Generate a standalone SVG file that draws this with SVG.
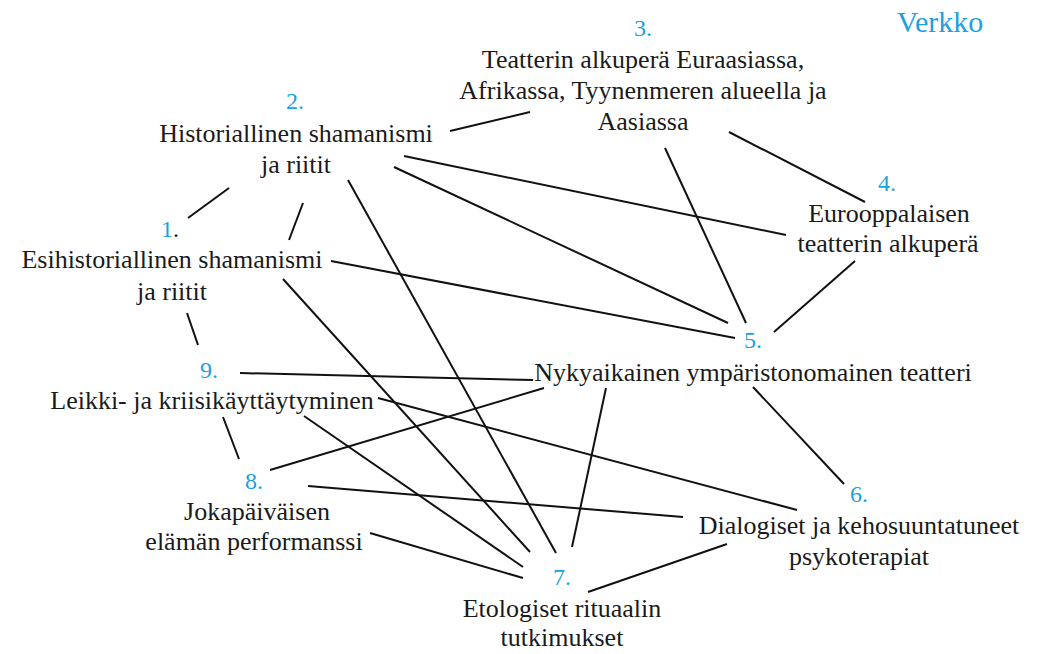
<svg xmlns="http://www.w3.org/2000/svg" width="1047" height="654" viewBox="0 0 1047 654">
<style>
.t{font-family:"Liberation Serif","Times New Roman",serif;font-size:26px;fill:#1a1a1a;text-anchor:middle}
.n{font-family:"Liberation Serif","Times New Roman",serif;font-size:24px;fill:#1ba1e2;text-anchor:middle}
.title{font-family:"Liberation Serif","Times New Roman",serif;font-size:30px;fill:#1ba1e2;text-anchor:middle}
.e line{stroke:#111;stroke-width:2;stroke-linecap:butt}
</style>
<rect width="1047" height="654" fill="#fff"/>
<text class="title" x="940" y="32">Verkko</text>
<g class="e" id="connectors">
<line x1="450" y1="131" x2="530" y2="112"/>
<line x1="404" y1="156" x2="786" y2="235"/>
<line x1="394" y1="167" x2="728" y2="323"/>
<line x1="348" y1="180" x2="556" y2="553"/>
<line x1="229" y1="188" x2="188" y2="218"/>
<line x1="303" y1="203" x2="289" y2="240"/>
<line x1="331" y1="261" x2="735" y2="338"/>
<line x1="283" y1="279" x2="530" y2="552"/>
<line x1="187" y1="313" x2="198" y2="345"/>
<line x1="665" y1="148" x2="746" y2="323"/>
<line x1="729" y1="132" x2="865" y2="202"/>
<line x1="855" y1="261" x2="774" y2="332"/>
<line x1="240" y1="373" x2="533" y2="380"/>
<line x1="378" y1="398" x2="797" y2="510"/>
<line x1="304" y1="416" x2="523" y2="567"/>
<line x1="223" y1="417" x2="239" y2="459"/>
<line x1="270" y1="470" x2="544" y2="388"/>
<line x1="308" y1="486" x2="683" y2="517"/>
<line x1="370" y1="533" x2="523" y2="578"/>
<line x1="606" y1="388" x2="572" y2="547"/>
<line x1="753" y1="387" x2="844" y2="484"/>
<line x1="727" y1="544" x2="588" y2="592"/>
</g>
<g id="node1">
<text class="n" x="170" y="237"><tspan>1</tspan><tspan fill="#1a1a1a">.</tspan></text>
<text class="t" x="172" y="268">Esihistoriallinen shamanismi</text>
<text class="t" x="172" y="300">ja riitit</text>
</g>
<g id="node2">
<text class="n" x="295" y="109">2.</text>
<text class="t" x="296" y="142">Historiallinen shamanismi</text>
<text class="t" x="296" y="173">ja riitit</text>
</g>
<g id="node3">
<text class="n" x="643" y="36">3.</text>
<text class="t" x="643" y="68">Teatterin alkuperä Euraasiassa,</text>
<text class="t" x="643" y="99">Afrikassa, Tyynenmeren alueella ja</text>
<text class="t" x="643" y="130">Aasiassa</text>
</g>
<g id="node4">
<text class="n" x="887" y="191">4.</text>
<text class="t" x="889" y="222">Eurooppalaisen</text>
<text class="t" x="888" y="252">teatterin alkuperä</text>
</g>
<g id="node5">
<text class="n" x="753" y="348">5.</text>
<text class="t" x="753" y="381">Nykyaikainen ympäristonomainen teatteri</text>
</g>
<g id="node6">
<text class="n" x="859" y="502">6.</text>
<text class="t" x="859" y="534">Dialogiset ja kehosuuntatuneet</text>
<text class="t" x="859" y="565">psykoterapiat</text>
</g>
<g id="node7">
<text class="n" x="562" y="585">7.</text>
<text class="t" x="562" y="617">Etologiset rituaalin</text>
<text class="t" x="562" y="646">tutkimukset</text>
</g>
<g id="node8">
<text class="n" x="254" y="489">8.</text>
<text class="t" x="257" y="520">Jokapäiväisen</text>
<text class="t" x="254" y="550">elämän performanssi</text>
</g>
<g id="node9">
<text class="n" x="209" y="378">9.</text>
<text class="t" x="212" y="409">Leikki- ja kriisikäyttäytyminen</text>
</g>
</svg>
